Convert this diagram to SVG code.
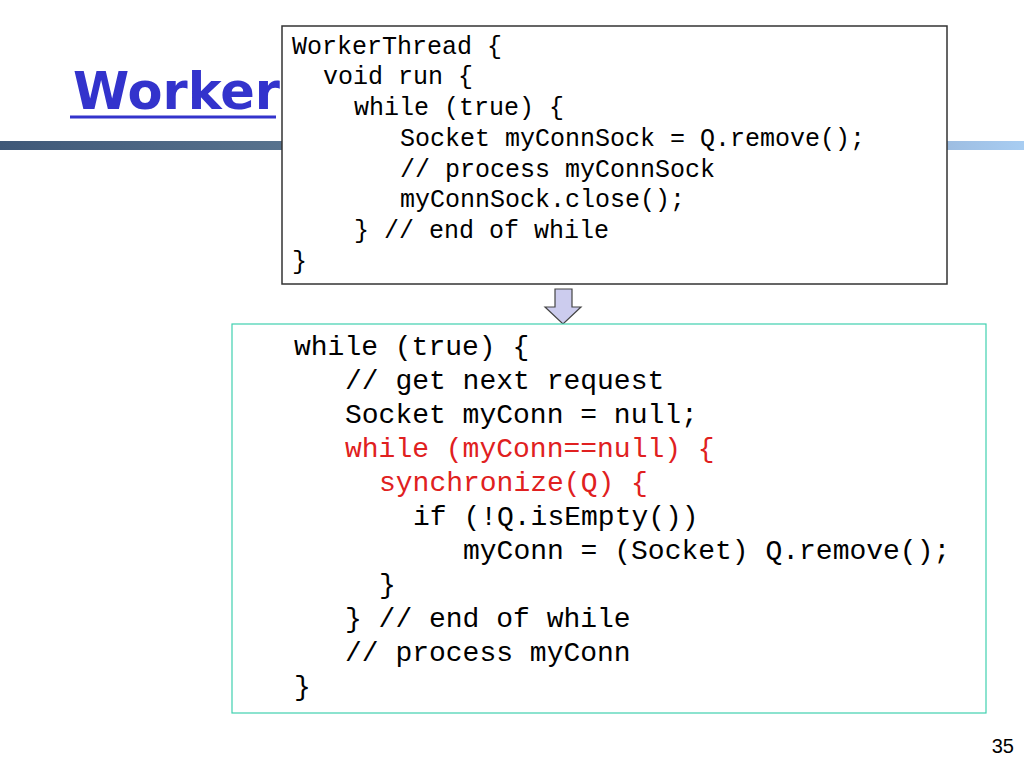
<svg xmlns="http://www.w3.org/2000/svg" width="1024" height="768" viewBox="0 0 1024 768">
<defs>
<linearGradient id="bar" x1="0" x2="1" y1="0" y2="0">
<stop offset="0" stop-color="#3f5878"/><stop offset="0.3" stop-color="#5a7590"/><stop offset="0.9" stop-color="#9ab8dc"/><stop offset="1" stop-color="#a8cdf2"/>
</linearGradient>
<style>
.c1{font-family:"Courier New","Liberation Mono",Courier,monospace;font-size:25px;fill:#000}
.c2{font-family:"Courier New","Liberation Mono",Courier,monospace;font-size:28px;fill:#000}
.r{fill:#e02020}
</style>
</defs>
<rect width="1024" height="768" fill="#fff"/>
<rect x="0" y="141" width="1024" height="9" fill="url(#bar)"/>
<text x="73" y="109" font-family="'DejaVu Sans',sans-serif" font-size="51" font-weight="bold" fill="#3333cc">Worker</text>
<line x1="70" y1="117" x2="276" y2="117" stroke="#3333cc" stroke-width="3"/>
<g id="worker-thread">
<rect x="282" y="26" width="665" height="258" fill="#fff" stroke="#333" stroke-width="1.5"/>
<text class="c1" x="292" y="54">WorkerThread {</text>
<text class="c1" x="323" y="84">void run {</text>
<text class="c1" x="354" y="115">while (true) {</text>
<text class="c1" x="400" y="146">Socket myConnSock = Q.remove();</text>
<text class="c1" x="400" y="177">// process myConnSock</text>
<text class="c1" x="400" y="207">myConnSock.close();</text>
<text class="c1" x="354" y="238">} // end of while</text>
<text class="c1" x="292" y="269">}</text>
</g>
<g id="connectors">
<polygon points="555,289 572,289 572,307 581,307 563,324 545,307 555,307" fill="#ccccee" stroke="#444" stroke-width="1.2"/>
</g>
<g id="polling-loop">
<rect x="232" y="324" width="754" height="389" fill="#fff" stroke="#40d0b0" stroke-width="1.2"/>
<text class="c2" x="294" y="355">while (true) {</text>
<text class="c2" x="345" y="389">// get next request</text>
<text class="c2" x="345" y="423">Socket myConn = null;</text>
<text class="c2 r" x="345" y="457">while (myConn==null) {</text>
<text class="c2 r" x="379" y="491">synchronize(Q) {</text>
<text class="c2" x="413" y="525">if (!Q.isEmpty())</text>
<text class="c2" x="463" y="559">myConn = (Socket) Q.remove();</text>
<text class="c2" x="379" y="593">}</text>
<text class="c2" x="345" y="627">} // end of while</text>
<text class="c2" x="345" y="661">// process myConn</text>
<text class="c2" x="294" y="695">}</text>
</g>
<text x="1014" y="753" text-anchor="end" font-family="'Liberation Sans',Arial,sans-serif" font-size="20" fill="#000">35</text>
</svg>
